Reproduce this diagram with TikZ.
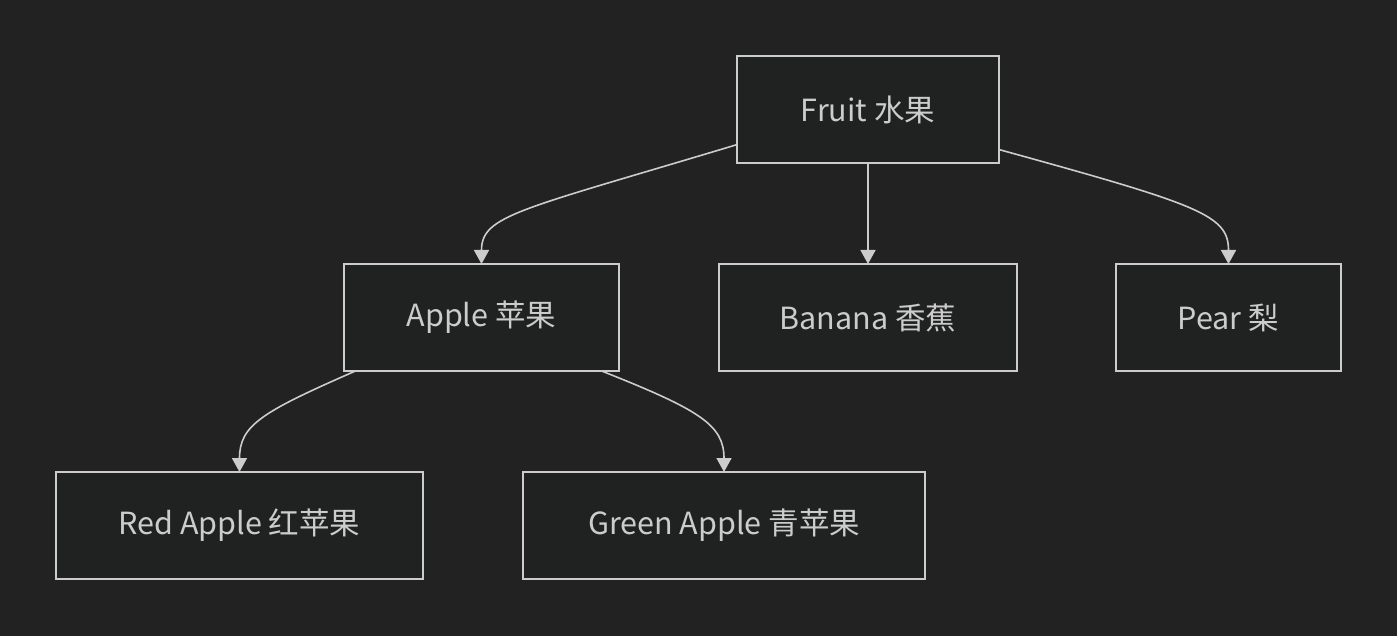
\documentclass[tikz,border=0pt]{standalone}
\usepackage{fontspec}
\setmainfont{Noto Sans CJK SC}
\usetikzlibrary{arrows.meta}
\definecolor{bgc}{HTML}{222222}
\definecolor{boxfill}{HTML}{202221}
\definecolor{linec}{HTML}{CCCCCC}
\definecolor{textc}{HTML}{CCCCCC}
\tikzset{
  box/.style={draw=linec, fill=boxfill, line width=1.6pt, text=textc, outer sep=0pt, inner sep=0pt, font=\fontsize{30.5}{34}\selectfont, minimum height=107pt},
  edge/.style={draw=linec, line width=1.6pt, -{Triangle[width=15pt,length=14pt]}}
}
\begin{document}
\begin{tikzpicture}[x=1pt,y=-1pt]
\fill[bgc] (0,0) rectangle (1397,636);
\useasboundingbox (0,0) rectangle (1397,636);
\node[box, minimum width=262pt] (fruit) at (868,109.5) {Fruit 水果};
\node[box, minimum width=275pt] (apple) at (481.5,317.5) {Apple 苹果};
\node[box, minimum width=298pt] (banana) at (868,317.5) {Banana 香蕉};
\node[box, minimum width=225pt] (pear) at (1228.5,317.5) {Pear 梨};
\node[box, minimum width=367pt] (red) at (239.5,525.5) {Red Apple 红苹果};
\node[box, minimum width=402pt] (green) at (724,525.5) {Green Apple 青苹果};
\draw[edge] (fruit.195.6) .. controls (520,210) and (481.5,215) .. (apple.north);
\draw[edge] (fruit.south) -- (banana.north);
\draw[edge] (fruit.343.6) .. controls (1200,205) and (1228.5,215) .. (pear.north);
\draw[edge] (apple.203.1) .. controls (262,412) and (239.5,425) .. (red.north);
\draw[edge] (apple.336.9) .. controls (700,410) and (724,425) .. (green.north);
\end{tikzpicture}
\end{document}
